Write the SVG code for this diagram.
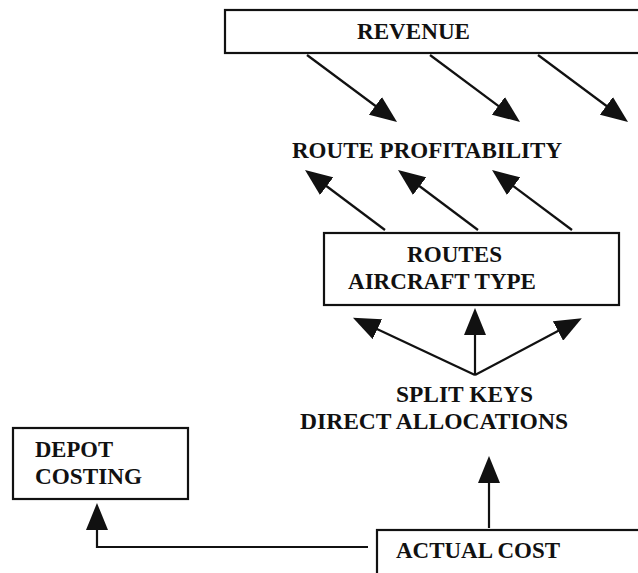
<svg xmlns="http://www.w3.org/2000/svg" width="638" height="573" viewBox="0 0 638 573">
  <style>
    .box { fill: #ffffff; stroke: #111111; stroke-width: 2.2; }
    .lbl { font-family: "Liberation Serif", "Times New Roman", serif; font-weight: bold; font-size: 23px; fill: #111111; }
    .wire { fill: none; stroke: #111111; stroke-width: 2.2; marker-end: url(#head); }
    .plain { fill: none; stroke: #111111; stroke-width: 2.2; }
  </style>
  <defs>
    <marker id="head" markerUnits="userSpaceOnUse" markerWidth="28" markerHeight="22" refX="17" refY="11" orient="auto">
      <path d="M0,0 L27,11 L0,22 z" fill="#111111"/>
    </marker>
  </defs>
  <rect width="638" height="573" fill="#ffffff"/>

  <!-- nodes -->
  <g id="revenue">
    <rect class="box" x="225" y="10" width="440" height="43"/>
    <text class="lbl" x="357" y="39" textLength="113" lengthAdjust="spacingAndGlyphs">REVENUE</text>
  </g>

  <g id="route-profitability">
    <text class="lbl" x="292" y="158" textLength="270" lengthAdjust="spacingAndGlyphs">ROUTE PROFITABILITY</text>
  </g>

  <g id="routes">
    <rect class="box" x="324" y="233" width="295" height="72"/>
    <text class="lbl" x="407" y="262" textLength="95" lengthAdjust="spacingAndGlyphs">ROUTES</text>
    <text class="lbl" x="348" y="289" textLength="188" lengthAdjust="spacingAndGlyphs">AIRCRAFT TYPE</text>
  </g>

  <g id="split-keys">
    <text class="lbl" x="396" y="402" textLength="137" lengthAdjust="spacingAndGlyphs">SPLIT KEYS</text>
    <text class="lbl" x="300" y="429" textLength="268" lengthAdjust="spacingAndGlyphs">DIRECT ALLOCATIONS</text>
  </g>

  <g id="depot-costing">
    <rect class="box" x="13" y="428" width="175" height="71"/>
    <text class="lbl" x="35" y="457" textLength="78" lengthAdjust="spacingAndGlyphs">DEPOT</text>
    <text class="lbl" x="35" y="484" textLength="107" lengthAdjust="spacingAndGlyphs">COSTING</text>
  </g>

  <g id="actual-cost">
    <rect class="box" x="377" y="530" width="300" height="60"/>
    <text class="lbl" x="396" y="558" textLength="164" lengthAdjust="spacingAndGlyphs">ACTUAL COST</text>
  </g>

  <!-- connectors -->
  <g id="connectors">
    <!-- revenue down to route profitability -->
    <line class="wire" x1="307" y1="55" x2="389" y2="116"/>
    <line class="wire" x1="430" y1="55" x2="512" y2="116"/>
    <line class="wire" x1="538" y1="55" x2="620" y2="116"/>
    <!-- routes up to route profitability -->
    <line class="wire" x1="385" y1="230" x2="313" y2="176"/>
    <line class="wire" x1="478" y1="230" x2="406" y2="176"/>
    <line class="wire" x1="572" y1="230" x2="500" y2="176"/>
    <!-- split keys fan out to routes -->
    <line class="wire" x1="475" y1="375" x2="475" y2="318"/>
    <line class="wire" x1="475" y1="375" x2="362" y2="322"/>
    <line class="wire" x1="475" y1="375" x2="573" y2="323"/>
    <!-- actual cost up to split keys -->
    <line class="wire" x1="489" y1="528" x2="489" y2="466"/>
    <!-- actual cost across to depot costing -->
    <polyline class="wire" points="368,547 97,547 97,513"/>
  </g>
</svg>
